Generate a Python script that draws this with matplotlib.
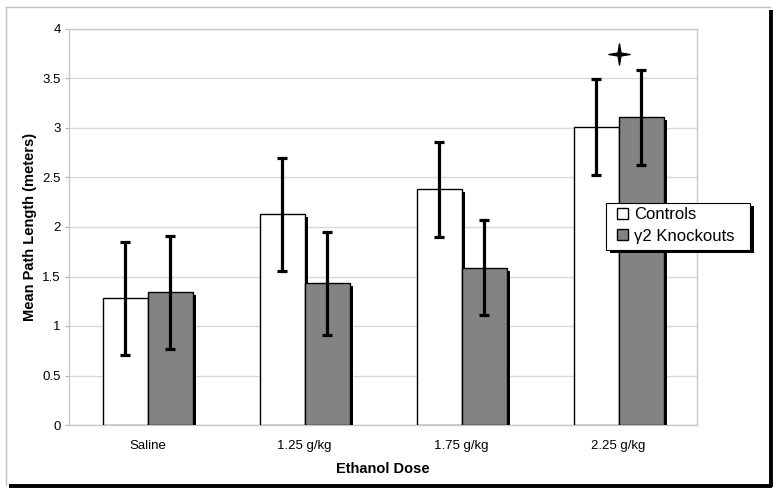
import matplotlib
matplotlib.use("Agg")
import matplotlib.pyplot as plt
import numpy as np
from matplotlib import patheffects as pe
from matplotlib.lines import Line2D
from matplotlib.patches import Rectangle
from matplotlib.path import Path

plt.rcParams['font.family'] = ['Liberation Sans', 'DejaVu Sans']

categories = ["Saline", "1.25 g/kg", "1.75 g/kg", "2.25 g/kg"]
controls = [1.28, 2.13, 2.38, 3.01]
controls_err = [0.57, 0.57, 0.48, 0.48]
knockouts = [1.34, 1.43, 1.59, 3.11]
knockouts_err = [0.57, 0.52, 0.48, 0.48]
star_x = [3]
star_y = [3.75]
series_names = ["Controls", "\u03b32 Knockouts"]

W, H = 781, 491
fig = plt.figure(figsize=(W / 100, H / 100), dpi=100)
ax = fig.add_axes([69 / W, 1 - 425 / H, (697 - 69) / W, (425 - 29) / H])

x = np.arange(len(categories))
bw = 45 / 157
shadow = [pe.SimplePatchShadow(offset=(2.5, -2.2), shadow_rgbFace='black', alpha=1.0), pe.Normal()]

b1 = ax.bar(x - bw / 2, controls, bw, color='white', edgecolor='black', linewidth=1.0,
            label=series_names[0], zorder=3)
b2 = ax.bar(x + bw / 2, knockouts, bw, color='#838383', edgecolor='black', linewidth=1.0,
            label=series_names[1], zorder=4)

ax.errorbar(x - bw / 2, controls, yerr=controls_err, fmt='none', ecolor='black',
            elinewidth=2.3, capsize=3.5, capthick=2.3, zorder=6)
ax.errorbar(x + bw / 2, knockouts, yerr=knockouts_err, fmt='none', ecolor='black',
            elinewidth=2.3, capsize=3.5, capthick=2.3, zorder=6)

star = Path([(0, 1), (0.14, 0.14), (1, 0), (0.14, -0.14), (0, -1), (-0.14, -0.14),
             (-1, 0), (-0.14, 0.14), (0, 1)],
            [Path.MOVETO] + [Path.LINETO] * 7 + [Path.CLOSEPOLY])
ax.scatter(star_x, star_y, marker=star, s=230, color='black', zorder=7)

ax.set_xlim(-0.5, len(categories) - 0.5)
ax.set_ylim(0, 4)
ax.set_yticks(np.arange(0, 4.01, 0.5))
ax.set_yticklabels(['0', '0.5', '1', '1.5', '2', '2.5', '3', '3.5', '4'])
ax.set_xticks(x)
ax.set_xticklabels(categories)
ax.tick_params(axis='x', length=0, labelsize=9.5, pad=11)
ax.tick_params(axis='y', length=3, color='#b0b0b0', labelsize=9.5, pad=3)
ax.yaxis.grid(True, color='#d8d8d8', linewidth=1)
ax.set_axisbelow(True)
for s in ax.spines.values():
    s.set_color('#c8c8c8')
    s.set_linewidth(1)

ax.set_ylabel("Mean Path Length (meters)", fontsize=10.5, fontweight='bold', labelpad=4)
ax.set_xlabel("Ethanol Dose", fontsize=10.5, fontweight='bold', labelpad=7)

# legend box drawn by hand (with shadow), legend itself frameless
lx0, ly0, lx1, ly1 = 606, 203, 750, 250
box = Rectangle((lx0 / W, 1 - ly1 / H), (lx1 - lx0) / W, (ly1 - ly0) / H,
                transform=fig.transFigure, facecolor='white', edgecolor='black',
                linewidth=0.8, zorder=9, clip_on=False)
box.set_path_effects([pe.SimplePatchShadow(offset=(3, -2.5), shadow_rgbFace='black', alpha=1.0), pe.Normal()])
ax.add_artist(box)

leg = ax.legend(loc='upper left', bbox_to_anchor=((614 - 69) / 628, (425 - 204) / 396),
                fontsize=12, frameon=False,
                handlelength=0.65, handleheight=0.65, handletextpad=0.35,
                borderpad=0.2, labelspacing=0.38, borderaxespad=0)
leg.set_zorder(10)

for b in list(b1) + list(b2):
    b.set_path_effects(shadow)

# outer frame
def fl(x0, y0, x1, y1, **kw):
    fig.add_artist(Line2D([x0 / W, x1 / W], [1 - y0 / H, 1 - y1 / H], transform=fig.transFigure, **kw))

fl(6, 7, 770, 7, color='#c0c0c0', linewidth=1)
fl(6, 7, 6, 485, color='#c0c0c0', linewidth=1)
fl(771, 10, 771, 487, color='black', linewidth=2.8, solid_capstyle='butt')
fl(9, 486, 772, 486, color='black', linewidth=2.8, solid_capstyle='butt')

fig.savefig("out.png", dpi=100)
